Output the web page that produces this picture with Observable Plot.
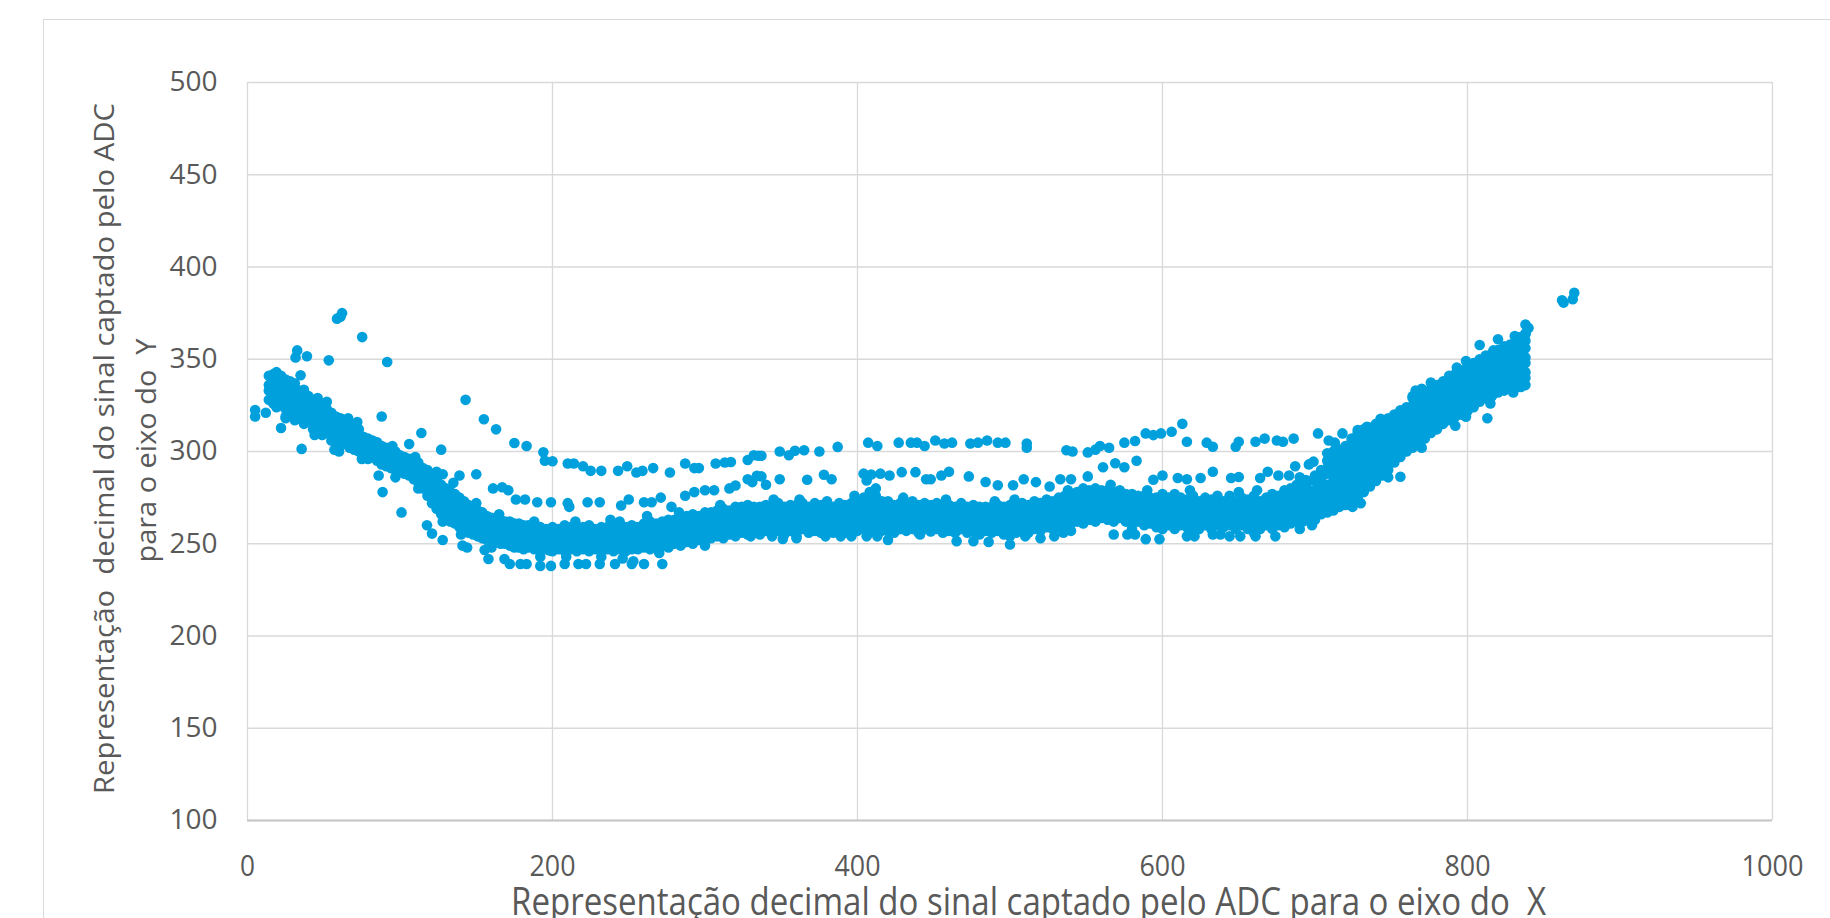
<!DOCTYPE html>
<html>
<head>
<meta charset="utf-8">
<script src="https://cdn.jsdelivr.net/npm/d3@7"></script>
<script src="https://cdn.jsdelivr.net/npm/@observablehq/plot@0.6"></script>
<style>
  body { margin: 0; background: #ffffff; }
  #wrap { position: relative; width: 1830px; height: 918px; overflow: hidden; background: #fff; }
  #border { position: absolute; left: 43px; top: 19px; width: 2000px; height: 1000px;
            border-left: 1.5px solid #d9d9d9; border-top: 1.5px solid #d9d9d9; pointer-events: none; z-index: 2; }
  svg text { white-space: pre; }
</style>
</head>
<body>
<div id="wrap"><div id="border"></div></div>
<script>
// ---- axis ticks & titles ----
const xTicks = [0, 200, 400, 600, 800, 1000];
const yTicks = [100, 150, 200, 250, 300, 350, 400, 450, 500];
const xTitle = "Representação decimal do sinal captado pelo ADC para o eixo do  X";
const yTitleLine1 = "Representação  decimal do sinal captado pelo ADC";
const yTitleLine2 = "para o eixo do  Y";

// ---- dense main band: [x, y values read at that x] ----
const bandColumns = [
 [14, 328, 333, 336, 341],
 [17, 326, 330, 335, 339, 342],
 [19, 324, 329, 333, 338, 343],
 [22, 325, 328, 332, 337, 341],
 [25, 319, 323, 328, 331, 336, 339],
 [28, 321, 324, 327, 332, 335, 338],
 [31, 317, 322, 326, 329, 334, 337],
 [34, 318, 320, 325, 330, 333],
 [37, 315, 319, 324, 327, 331],
 [40, 316, 318, 322, 326, 330],
 [43, 312, 317, 320, 324, 328],
 [46, 311, 314, 319, 322, 327],
 [49, 309, 313, 317, 321, 325],
 [52, 310, 312, 316, 320, 323],
 [55, 306, 310, 314, 318, 321],
 [58, 304, 309, 312, 316, 319],
 [61, 303, 307, 311, 315, 318],
 [64, 305, 306, 310, 313, 316],
 [67, 302, 305, 309, 312, 315],
 [70, 301, 304, 307, 311, 313],
 [73, 300, 303, 306, 309, 312],
 [76, 299, 302, 305, 308],
 [79, 298, 301, 304, 307],
 [82, 297, 299, 303, 306],
 [85, 295, 298, 301, 305],
 [88, 293, 297, 300, 303],
 [91, 292, 296, 299, 302],
 [94, 291, 294, 298, 301],
 [97, 290, 293, 297, 300],
 [100, 289, 292, 296, 298],
 [103, 288, 291, 294, 297],
 [106, 287, 290, 293, 296],
 [109, 285, 288, 292, 295],
 [112, 283, 286, 290, 294],
 [115, 280, 284, 288, 291],
 [118, 276, 280, 284, 287, 290],
 [121, 272, 276, 279, 283, 287],
 [124, 269, 273, 277, 280, 285],
 [127, 266, 270, 274, 278, 282],
 [130, 264, 268, 271, 275, 280],
 [133, 262, 266, 270, 274, 278],
 [136, 261, 264, 268, 272, 277],
 [139, 259, 262, 266, 270, 275],
 [142, 258, 261, 265, 269, 273],
 [145, 256, 260, 264, 268, 271],
 [148, 255, 259, 262, 266, 270],
 [151, 254, 257, 261, 265, 268],
 [154, 253, 256, 260, 263, 267],
 [157, 252, 255, 259, 262, 265],
 [160, 251, 255, 258, 262, 264],
 [163, 251, 254, 257, 261, 263],
 [166, 250, 253, 257, 260, 263],
 [169, 250, 252, 256, 259, 262],
 [172, 249, 252, 255, 259, 262],
 [175, 248, 251, 255, 258, 261],
 [178, 248, 251, 254, 258, 261],
 [181, 247, 250, 254, 257, 260],
 [184, 248, 250, 253, 257, 260],
 [188, 247, 250, 254, 256, 259],
 [192, 246, 249, 253, 256, 259],
 [196, 247, 250, 252, 256, 258],
 [200, 246, 250, 253, 255, 259],
 [204, 247, 249, 252, 256, 258],
 [208, 246, 250, 253, 257, 260],
 [212, 247, 249, 252, 255, 259],
 [216, 246, 250, 254, 256, 258],
 [220, 247, 250, 252, 255, 259],
 [224, 246, 249, 253, 257, 260],
 [228, 247, 250, 252, 256, 258],
 [232, 246, 249, 253, 255, 259],
 [236, 247, 250, 254, 257, 259],
 [240, 246, 249, 252, 256, 260],
 [244, 247, 251, 254, 257, 262],
 [248, 246, 250, 253, 256, 259],
 [252, 247, 249, 253, 257, 260],
 [256, 247, 250, 254, 256, 259],
 [260, 248, 251, 253, 257, 261],
 [264, 247, 250, 254, 258, 262],
 [268, 248, 252, 255, 259, 261],
 [272, 249, 251, 255, 258, 262],
 [276, 248, 252, 256, 259, 263],
 [280, 250, 253, 256, 260, 263],
 [284, 249, 253, 257, 261, 264],
 [288, 251, 254, 258, 261, 265],
 [292, 250, 254, 257, 262, 266],
 [296, 252, 255, 259, 262, 265],
 [300, 252, 256, 260, 263, 267],
 [304, 253, 256, 260, 264, 267],
 [308, 254, 258, 261, 265, 268],
 [312, 253, 257, 261, 264, 269],
 [316, 255, 258, 262, 266, 268],
 [320, 254, 258, 262, 265, 270],
 [324, 256, 259, 263, 267, 270],
 [328, 255, 259, 262, 266, 271],
 [332, 256, 260, 264, 267, 270],
 [336, 255, 258, 262, 266, 270],
 [340, 257, 260, 264, 268, 271],
 [344, 256, 259, 263, 267, 270],
 [348, 257, 261, 264, 268, 272],
 [352, 255, 259, 263, 266, 270],
 [356, 257, 260, 264, 268, 271],
 [360, 256, 260, 263, 267, 271],
 [364, 258, 261, 265, 269, 272],
 [368, 256, 259, 263, 266, 270],
 [372, 257, 261, 264, 268, 272],
 [376, 256, 260, 264, 267, 271],
 [380, 258, 261, 265, 269, 273],
 [384, 256, 260, 263, 267, 270],
 [388, 257, 261, 265, 268, 272],
 [392, 256, 259, 263, 267, 271],
 [396, 258, 262, 265, 269, 272],
 [400, 257, 260, 264, 268, 273],
 [404, 258, 262, 266, 270, 275],
 [408, 256, 260, 264, 269, 274, 278],
 [412, 258, 262, 266, 271, 276, 280],
 [416, 257, 261, 265, 269, 273],
 [420, 258, 262, 266, 270, 273],
 [424, 256, 260, 264, 268, 271],
 [428, 258, 262, 266, 270, 272],
 [432, 257, 261, 264, 268, 271],
 [436, 258, 262, 266, 270, 273],
 [440, 256, 260, 264, 268, 271],
 [444, 258, 261, 265, 269, 272],
 [448, 257, 261, 264, 268, 271],
 [452, 258, 262, 266, 269, 272],
 [456, 256, 260, 264, 268, 271],
 [460, 257, 261, 265, 268, 271],
 [464, 256, 260, 263, 267, 270],
 [468, 258, 261, 265, 269, 272],
 [472, 256, 260, 264, 267, 270],
 [476, 257, 261, 264, 268, 271],
 [480, 255, 259, 263, 267, 270],
 [484, 257, 260, 264, 268, 270],
 [488, 256, 259, 263, 266, 270],
 [492, 257, 261, 264, 268, 271],
 [496, 255, 259, 263, 267, 270],
 [500, 257, 260, 264, 268, 271],
 [504, 256, 259, 263, 267, 270],
 [508, 257, 261, 265, 268, 272],
 [512, 256, 260, 264, 268, 271],
 [516, 258, 262, 266, 269, 273],
 [520, 257, 261, 265, 269, 272],
 [524, 259, 262, 266, 270, 274],
 [528, 258, 262, 266, 270, 273],
 [532, 259, 263, 267, 271, 275],
 [536, 260, 264, 268, 272, 276],
 [540, 261, 265, 268, 272, 277],
 [544, 262, 266, 270, 274, 278],
 [548, 261, 265, 269, 273, 277, 280],
 [552, 263, 267, 271, 275, 279],
 [556, 262, 266, 270, 274, 278, 280],
 [560, 264, 268, 272, 276, 279],
 [564, 263, 267, 271, 275, 279],
 [568, 262, 266, 270, 274, 278],
 [572, 264, 268, 272, 275, 279],
 [576, 262, 266, 270, 274, 277],
 [580, 261, 265, 269, 273, 277],
 [584, 262, 266, 270, 274, 276],
 [588, 260, 264, 268, 272, 276],
 [592, 261, 265, 269, 273, 275],
 [596, 259, 263, 267, 271, 275],
 [600, 258, 262, 266, 270, 274, 277],
 [604, 260, 264, 268, 272, 275],
 [608, 258, 262, 266, 270, 274, 277],
 [612, 260, 264, 267, 271, 275],
 [616, 259, 262, 266, 270, 274],
 [620, 260, 264, 268, 272, 276],
 [624, 258, 262, 266, 269, 273],
 [628, 260, 263, 267, 271, 275],
 [632, 258, 262, 266, 270, 274],
 [636, 260, 264, 267, 271, 276],
 [640, 259, 262, 266, 270, 273],
 [644, 260, 264, 268, 272, 276],
 [648, 258, 262, 265, 269, 273],
 [652, 260, 263, 267, 271, 275],
 [656, 258, 262, 266, 270, 274],
 [660, 260, 264, 268, 272, 276],
 [664, 258, 261, 265, 269, 273],
 [668, 260, 263, 267, 271, 275],
 [672, 258, 262, 266, 270, 274, 277],
 [676, 260, 264, 268, 272, 276],
 [680, 259, 263, 267, 271, 275, 279],
 [684, 261, 265, 269, 273, 277, 280],
 [688, 262, 266, 270, 274, 278, 282],
 [692, 262, 266, 270, 274, 278, 283],
 [696, 263, 267, 271, 275, 279, 284],
 [700, 263, 268, 271, 276, 279, 284, 287],
 [704, 266, 269, 274, 277, 282, 285, 290],
 [708, 267, 270, 275, 279, 282, 288, 291, 295],
 [712, 268, 273, 276, 281, 284, 289, 292, 297],
 [716, 270, 274, 277, 282, 285, 289, 294, 297, 301],
 [720, 271, 274, 279, 282, 287, 290, 295, 298, 303],
 [724, 273, 276, 281, 284, 288, 292, 297, 300, 305, 307],
 [728, 275, 278, 283, 286, 291, 294, 299, 302, 307, 310],
 [732, 278, 281, 286, 289, 294, 297, 302, 305, 310, 312],
 [736, 281, 285, 288, 293, 296, 301, 304, 309, 313],
 [740, 284, 287, 292, 295, 300, 303, 308, 311, 315],
 [744, 287, 291, 294, 299, 302, 307, 310, 315, 317],
 [748, 290, 293, 298, 301, 306, 309, 314, 318],
 [752, 294, 297, 302, 305, 310, 313, 318, 320],
 [756, 297, 301, 304, 309, 312, 317, 321],
 [760, 300, 303, 308, 311, 316, 319, 324],
 [764, 302, 306, 309, 314, 317, 322, 325, 329],
 [768, 305, 308, 313, 316, 321, 324, 329],
 [772, 307, 311, 314, 319, 322, 327, 331],
 [776, 310, 313, 318, 321, 326, 329, 334],
 [780, 312, 316, 319, 324, 327, 332, 336],
 [784, 315, 318, 323, 326, 331, 334, 338],
 [788, 317, 321, 324, 329, 332, 337, 340],
 [792, 319, 322, 327, 330, 335, 338, 342],
 [796, 320, 324, 327, 332, 335, 340, 344],
 [800, 322, 325, 330, 333, 338, 341, 346],
 [804, 324, 328, 331, 336, 339, 344, 348],
 [808, 327, 330, 335, 338, 343, 346, 350],
 [812, 329, 333, 336, 341, 344, 349, 352],
 [816, 330, 333, 338, 341, 346, 349, 353],
 [820, 332, 336, 339, 344, 347, 352, 355],
 [824, 333, 336, 341, 344, 349, 352, 357],
 [828, 334, 338, 341, 346, 349, 354, 358],
 [832, 335, 338, 343, 346, 351, 354, 359],
 [835, 335, 339, 342, 347, 350, 355, 358, 362],
 [838, 336, 340, 343, 348, 351, 356, 360, 364]
];

// ---- ragged edge points of the band ----
const bandFringe = [[46,329],[52,327],[66,318],[72,316],[57,301],[79,296],[95,303],[110,297],[124,289],[135,283],[150,272],[165,266],[188,262],[215,262],[238,263],[262,265],[283,267],[310,271],[345,274],[362,274],[398,276],[430,275],[458,274],[490,273],[503,274],[538,279],[566,282],[590,279],[618,279],[650,278],[662,279],[690,286],[698,260],[690,258],[360,253],[420,252],[300,249],[270,245],[232,243],[209,243],[160,248],[140,255],[128,262],[112,280],[97,286],[75,296],[60,300],[44,309],[500,254],[540,257],[580,258],[620,256],[660,256],[730,272],[748,286],[770,302],[792,314],[815,326],[830,332]];

// ---- sparse upper strand ----
const upperStrand = [[143,328],[155,317.5],[163,312],[175,304.6],[183,303],[194,299.6],[195,295],[200,294.7],[210,293.5],[214,293.5],[220,292],[225,289.5],[232,289.5],[243,289.5],[249,292],[255,288.6],[259,289.5],[266,291],[277,288.6],[287,293.5],[293,291],[296,291],[307,293.5],[313,294],[317,294.3],[328,295.4],[332,298],[335,297.7],[337,297.7],[349,300],[355,298],[359,300.4],[365,300.7],[375,300],[387,302.5],[407,304.8],[413,303],[427,304.8],[435,304.8],[439,304.8],[444,303],[451,306],[457,304.3],[462,304.8],[474,304.3],[479,304.8],[485,306],[492,304.8],[497,304.8],[511,304.3],[511,302],[537,300.7],[541,300],[551,299.5],[556,301],[559,303],[565,302],[575,304.8],[582,305.7],[589,309.8],[594,308.9],[599,309.8],[606,310.7],[613,315],[616,305.3],[629,304.8],[633,302.6],[648,302.6],[650,305.3],[661,305.3],[667,307],[675,306],[679,305.3],[686,307],[702,309.8],[709,306],[713,304.8],[718,309.8],[728,311.6],[734,313.4],[743,317.7],[756,322.3],[764,330],[766,333],[770,334],[776,337.4],[788,341],[793,345.5],[799,349],[808,357.7],[817,354.8],[820,360.8],[831,362.6],[834,361.7],[838,368.8],[840,367],[838,363.5]];

// ---- sparse middle strand ----
const middleStrand = [[128,287.7],[139,287],[150,287.7],[161,280],[167,280.6],[171,279],[176,274],[182,274],[190,272.5],[199,272.5],[210,272],[211,270],[223,272.5],[231,272.5],[245,270.7],[250,274],[260,272.5],[265,272.5],[271,275],[278,270],[287,276],[293,278],[300,279],[306,279],[316,280],[320,281.6],[328,285],[331,283.4],[334,286.8],[337,286.5],[340,282],[349,285],[367,284.7],[378,287.4],[383,285],[404,288],[406,284.3],[409,287.5],[415,288],[421,287],[429,288.8],[438,288.8],[445,285],[448,285],[455,287],[460,289],[473,286.5],[484,283.5],[492,281.7],[502,281.7],[509,285],[517,283.4],[526,281],[533,285],[540,285],[551,286.5],[561,291.5],[569,293.6],[575,291.5],[583,295],[594,284.7],[600,287],[610,285.6],[616,285],[625,285.6],[633,289],[645,285.6],[650,286.2],[664,285.6],[669,289],[676,287],[683,287],[687,292],[694,284.5],[696,293],[699,294.5],[708,299],[712,300]];

// ---- points below the band ----
const lowerPoints = [[117.7,260],[121,255.5],[128,252],[141,249],[144,248],[155.5,246.6],[158,241.7],[168.5,241.7],[172,239],[179,239],[183,239],[192,238],[199,238],[208,239],[217,239],[222,239],[231,239],[241,239],[252,239],[260,239],[272,239],[192,243],[198,246.4],[246,242],[253,240.5],[330,254],[344,254],[351,252.6],[360,254],[375,258.5],[379,254],[389,254],[396,254],[406,254],[413,254],[421,255.8],[428,258],[441,255],[448,256.7],[456,257.6],[465,251.4],[466,257.6],[472,259.4],[476,251.4],[486,251],[500,249.6],[510,254],[520,253],[529,254],[535,256],[568,255],[577,255],[582,255],[589,252.5],[598,252.5],[616,254],[621,254],[633,255],[638,255],[644,254],[651,254],[661,254],[674,254],[724.6,270],[756,286.3],[799,318.8],[813,318]];

// ---- isolated outliers ----
const outliers = [[5,322.5],[5,319],[12,321],[22,312.7],[25,318],[35.5,301.4],[86,287],[88.6,278],[101,267],[31.5,351],[32.6,354.8],[39,351.6],[53.3,349.4],[58.7,372],[61,373],[62,375],[75.2,362],[91.6,348.5],[34.8,341.3],[37,333.5],[106,304],[114,310],[127,301],[88,319],[862,382],[863,380.7],[869,382.5],[870,386]];

const points = [];
for (const [x, ...ys] of bandColumns) for (const y of ys) points.push({x, y});
for (const [x, y] of [...bandFringe, ...upperStrand, ...middleStrand, ...lowerPoints, ...outliers]) points.push({x, y});

const gray = "#595959";
const svg = Plot.plot({
  width: 1830,
  height: 918,
  marginTop: 82,
  marginBottom: 98,
  marginLeft: 247,
  marginRight: 58,
  style: { fontFamily: "'Open Sans', 'Segoe UI', sans-serif", color: gray, background: "transparent" },
  x: { domain: [0, 1000] },
  y: { domain: [100, 500] },
  marks: [
    Plot.gridY(yTicks, { stroke: "#d9d9d9", strokeOpacity: 1, strokeWidth: 1.3 }),
    Plot.gridX(xTicks, { stroke: "#d9d9d9", strokeOpacity: 1, strokeWidth: 1.3 }),
    Plot.ruleY([100], { stroke: "#c6c6c6", strokeWidth: 2 }),
    Plot.axisY(yTicks, { tickSize: 0, tickPadding: 30, fontSize: 28, label: null, tickFormat: d => String(d) }),
    Plot.axisX(xTicks, { tickSize: 0, tickPadding: 34, fontSize: 30, label: null, tickFormat: d => String(d) }),
    Plot.dot(points, { x: "x", y: "y", r: 5.3, fill: "#00a0dd", stroke: null }),
    Plot.text([yTitleLine1], { text: d => d, frameAnchor: "left", rotate: -90, textAnchor: "middle", lineAnchor: "bottom", dx: -134, dy: -3, fontSize: 28, fill: gray }),
    Plot.text([yTitleLine2], { text: d => d, frameAnchor: "left", rotate: -90, textAnchor: "middle", lineAnchor: "bottom", dx: -92, dy: -1, fontSize: 28, fill: gray }),
    Plot.text([xTitle], { text: d => d, frameAnchor: "bottom", textAnchor: "middle", lineAnchor: "bottom", dx: 18.5, dy: 94, fontSize: 38, fill: gray })
  ]
});

// condensed look of the x-axis texts (as in the reference)
const sel = d3.select(svg);
sel.selectAll('g[aria-label="x-axis tick label"] text').each(function () {
  const n = this.textContent.length;
  this.setAttribute("textLength", n === 1 ? 15 : n === 3 ? 46 : 62);
  this.setAttribute("lengthAdjust", "spacingAndGlyphs");
});
sel.selectAll("text").each(function () {
  const t = this.textContent;
  if (t === xTitle) { this.setAttribute("textLength", 1035); this.setAttribute("lengthAdjust", "spacingAndGlyphs"); }
  if (t === yTitleLine1) { this.setAttribute("textLength", 691); this.setAttribute("lengthAdjust", "spacingAndGlyphs"); }
  if (t === yTitleLine2) { this.setAttribute("textLength", 224); this.setAttribute("lengthAdjust", "spacingAndGlyphs"); }
});
svg.style.position = "absolute";
svg.style.left = "0px";
svg.style.top = "0px";
document.getElementById("wrap").appendChild(svg);
</script>
</body>
</html>
